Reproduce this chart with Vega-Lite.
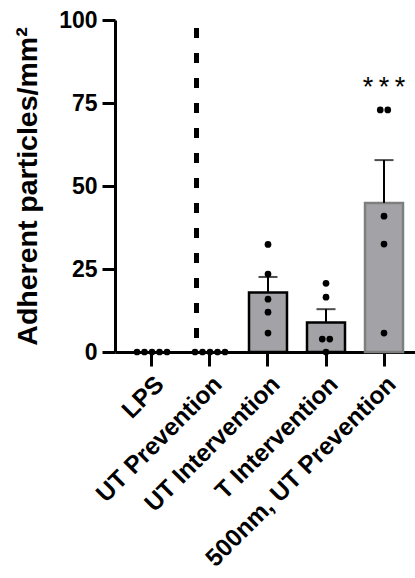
{
  "$schema": "https://vega.github.io/schema/vega-lite/v6.json",
  "autosize": {"type": "none"},
  "padding": {"left": 115, "top": 20, "right": 0, "bottom": 226},
  "width": 300,
  "height": 332,
  "background": "white",
  "config": {
    "view": {"stroke": null},
    "font": "Liberation Sans",
    "axis": {"grid": false, "domainColor": "black", "tickColor": "black", "labelColor": "black", "titleColor": "black", "domainWidth": 3, "tickWidth": 3, "labelFont": "Liberation Sans", "titleFont": "Liberation Sans", "labelFontWeight": "bold", "titleFontWeight": "bold", "labelFontSize": 23, "labelLimit": 0}
  },
  "datasets": {
    "dots": [
      {"group": "LPS", "value": 0, "slot": -2},
      {"group": "LPS", "value": 0, "slot": -1},
      {"group": "LPS", "value": 0, "slot": 0},
      {"group": "LPS", "value": 0, "slot": 1},
      {"group": "LPS", "value": 0, "slot": 2},
      {"group": "UT Prevention", "value": 0, "slot": -2},
      {"group": "UT Prevention", "value": 0, "slot": -1},
      {"group": "UT Prevention", "value": 0, "slot": 0},
      {"group": "UT Prevention", "value": 0, "slot": 1},
      {"group": "UT Prevention", "value": 0, "slot": 2},
      {"group": "UT Intervention", "value": 32.4, "slot": 0},
      {"group": "UT Intervention", "value": 23.5, "slot": 0},
      {"group": "UT Intervention", "value": 15.9, "slot": 0},
      {"group": "UT Intervention", "value": 12.0, "slot": 0},
      {"group": "UT Intervention", "value": 5.7, "slot": 0},
      {"group": "T Intervention", "value": 20.7, "slot": 0},
      {"group": "T Intervention", "value": 16.5, "slot": 0},
      {"group": "T Intervention", "value": 3.9, "slot": -0.5},
      {"group": "T Intervention", "value": 3.9, "slot": 0.5},
      {"group": "T Intervention", "value": 0, "slot": 0},
      {"group": "500nm, UT Prevention", "value": 72.9, "slot": -0.5},
      {"group": "500nm, UT Prevention", "value": 72.9, "slot": 0.5},
      {"group": "500nm, UT Prevention", "value": 40.9, "slot": 0},
      {"group": "500nm, UT Prevention", "value": 32.5, "slot": 0},
      {"group": "500nm, UT Prevention", "value": 5.7, "slot": 0}
    ],
    "bars": [
      {"group": "UT Intervention", "mean": 17.9, "upper": 22.6},
      {"group": "T Intervention", "mean": 8.9, "upper": 12.9},
      {"group": "500nm, UT Prevention", "mean": 44.9, "upper": 57.8, "sig": "*\u2009*\u2009*"}
    ]
  },
  "encoding": {
    "x": {
      "field": "group", "type": "nominal",
      "scale": {"domain": ["LPS", "UT Prevention", "UT Intervention", "T Intervention", "500nm, UT Prevention"], "paddingInner": 0.345, "paddingOuter": 0.2586, "align": 0.6},
      "axis": {"title": null, "labelAngle": -45, "tickSize": 14, "labelPadding": 6, "labelFontSize": 24.5}
    },
    "y": {
      "type": "quantitative",
      "scale": {"domain": [0, 100], "nice": false},
      "axis": {"values": [0, 25, 50, 75, 100], "tickSize": 13, "labelPadding": 5, "title": "Adherent particles/mm²", "titleFontSize": 28.5, "titlePadding": 16}
    }
  },
  "layer": [
    {
      "data": {"values": [{"group": "UT Prevention"}]},
      "mark": {"type": "rule", "strokeWidth": 5, "strokeDash": [10, 15], "color": "black", "strokeCap": "butt"},
      "encoding": {
        "x": {"field": "group", "type": "nominal", "bandPosition": 0.145},
        "y": {"datum": 97.6, "type": "quantitative"},
        "y2": {"datum": 4.2}
      }
    },
    {
      "data": {"name": "bars"},
      "transform": [{"filter": "datum.group !== '500nm, UT Prevention'"}],
      "mark": {"type": "rect", "fill": "#a3a3a7", "stroke": "#000000", "strokeWidth": 2.5},
      "encoding": {
        "x": {"field": "group", "type": "nominal", "bandPosition": 0},
        "x2": {"field": "group", "bandPosition": 1},
        "y": {"field": "mean", "type": "quantitative"},
        "y2": {"datum": 0}
      }
    },
    {
      "data": {"name": "bars"},
      "transform": [{"filter": "datum.group === '500nm, UT Prevention'"}],
      "mark": {"type": "rect", "fill": "#a3a3a7", "stroke": "#7f7f7f", "strokeWidth": 2.5},
      "encoding": {
        "x": {"field": "group", "type": "nominal", "bandPosition": 0},
        "x2": {"field": "group", "bandPosition": 1},
        "y": {"field": "mean", "type": "quantitative"},
        "y2": {"datum": 0}
      }
    },
    {
      "data": {"name": "bars"},
      "mark": {"type": "rule", "strokeWidth": 2, "color": "black"},
      "encoding": {
        "y": {"field": "mean", "type": "quantitative"},
        "y2": {"field": "upper"}
      }
    },
    {
      "data": {"name": "bars"},
      "mark": {"type": "tick", "size": 19, "thickness": 2, "color": "black", "orient": "horizontal"},
      "encoding": {
        "y": {"field": "upper", "type": "quantitative"}
      }
    },
    {
      "data": {"name": "dots"},
      "mark": {"type": "circle", "size": 45, "color": "black", "opacity": 1},
      "encoding": {
        "y": {"field": "value", "type": "quantitative"},
        "xOffset": {"field": "slot", "type": "quantitative", "scale": {"domain": [-2, 2], "range": [4, 34]}}
      }
    },
    {
      "data": {"name": "bars"},
      "transform": [{"filter": "datum.sig"}],
      "mark": {"type": "text", "fontSize": 27, "font": "Liberation Sans", "color": "black", "baseline": "alphabetic"},
      "encoding": {
        "y": {"datum": 77, "type": "quantitative"},
        "text": {"field": "sig"}
      }
    }
  ]
}
